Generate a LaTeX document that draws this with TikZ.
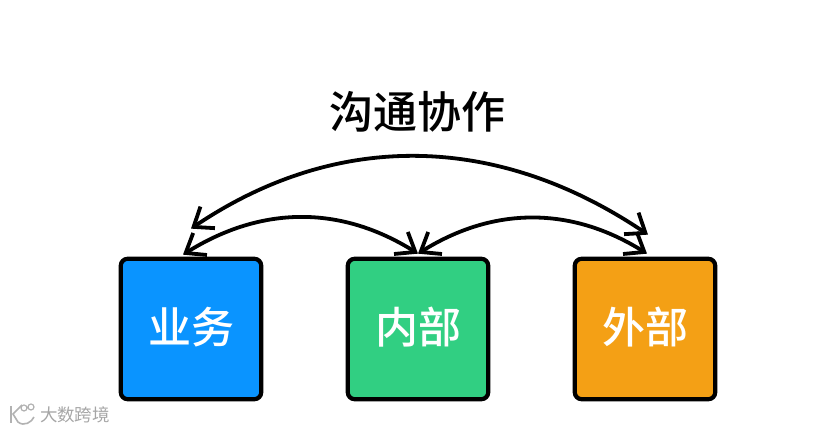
\documentclass[tikz,border=0pt]{standalone}
\usepackage{fontspec}
\newfontfamily\cjk{Noto Sans CJK SC}
\newfontfamily\cjkmid{Noto Sans CJK SC Medium}
\usetikzlibrary{arrows.meta}
\definecolor{bizblue}{HTML}{0A94FF}
\definecolor{ingreen}{HTML}{31CF82}
\definecolor{extorange}{HTML}{F4A015}
\tikzstyle{unit} = [rectangle,rounded corners=7pt,minimum size=140.5pt,line width=4.2pt,draw=black,text=white,text height=37pt,text depth=8pt,font=\cjkmid\fontsize{43pt}{43pt}\selectfont]
\tikzstyle{headline} = [text=black,font=\cjkmid\fontsize{44pt}{44pt}\selectfont]
\tikzstyle{wmark} = [text=black!35,font=\cjk\fontsize{17.5pt}{17.5pt}\selectfont]
\tikzstyle{link} = [line width=3.8pt,{Straight Barb[length=17pt,width=26pt,line width=3.8pt]}-{Straight Barb[length=17pt,width=26pt,line width=3.8pt]}]

\begin{document}
\begin{tikzpicture}[x=1pt,y=1pt,node distance=227pt]
    \useasboundingbox (0,0) rectangle (839,430);
    % Boxes
    \node[unit,fill=bizblue] (biz) at (191,101) {业务};
    \node[unit,fill=ingreen,right of=biz] (inner) {内部};
    \node[unit,fill=extorange,right of=inner] (ext) {外部};

    % Title
    \node[headline] (head) at (417,318) {沟通协作};

    % Watermark
    \node[wmark] (wm) at (75,15) {大数跨境};
    \draw[black!30,line width=1.6pt] (11,24) -- (11,7);
    \draw[black!30,line width=1.6pt] (22,25) -- (13,16) -- (18,8) .. controls (24,3) and (32,8) .. (34,13);
    \draw[black!30,line width=1.2pt] (24,22) circle (3pt) (31,23) circle (3pt);

    % arrow
    \draw[link] ([xshift=0pt,yshift=28pt]biz.north) to[out=34,in=146] ([xshift=3pt,yshift=22pt]ext.north);
    \draw[link] ([xshift=-8pt,yshift=2pt]biz.north) to[out=32,in=148] ([yshift=3pt]inner.north);
    \draw[link] ([yshift=3pt]inner.north) to[out=32,in=148] ([xshift=2pt,yshift=3pt]ext.north);
\end{tikzpicture}
\end{document}
